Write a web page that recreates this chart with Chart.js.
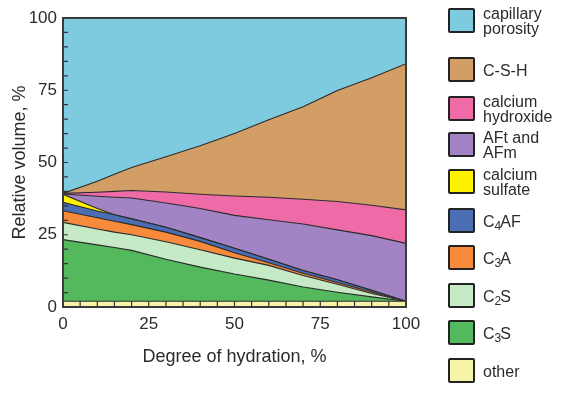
<!DOCTYPE html>
<html>
<head>
<meta charset="utf-8">
<script src="https://cdn.jsdelivr.net/npm/chart.js@4/dist/chart.umd.min.js"></script>
<style>
  html, body { margin: 0; padding: 0; background: #fff; }
  #wrap { position: relative; width: 563px; height: 396px; font-family: "Liberation Sans", Arial, Helvetica, sans-serif; color: #2b2b2b; }
  #chart { position: absolute; left: 0; top: 0; }
  .item { position: absolute; left: 448px; }
  .box { position: absolute; left: 0; width: 23px; height: 21px; border: 2.5px solid #222; border-radius: 2px; }
  .txt { position: absolute; left: 35px; font-size: 16px; line-height: 15px; white-space: nowrap; }
  .txt sub { font-size: 12px; line-height: 0; vertical-align: -3px; letter-spacing: -1px; }
</style>
</head>
<body>
<div id="wrap">
  <canvas id="chart" width="563" height="396"></canvas>
  <div id="legend"></div>
</div>
<script>
// degree of hydration, %
const hydration = [0, 10, 15, 20, 30, 40, 50, 60, 70, 80, 90, 100];

// relative volume of each phase, % (bottom to top)
const other     = [2, 2, 2, 2, 2, 2, 2, 2, 2, 2, 2, 2];
const c3s       = [21.3, 19.5, 18.6, 17.6, 14.5, 11.8, 9.4, 7.3, 4.9, 3.1, 1.5, 0];
const c2s       = [6.0, 5.5, 5.3, 5.4, 6.1, 6.0, 5.5, 5.1, 4.0, 2.8, 1.2, 0];
const c3a       = [4.0, 3.9, 3.8, 3.5, 3.3, 2.9, 1.9, 0.9, 0.8, 0.6, 0.5, 0];
const c4af      = [2.9, 2.3, 2.2, 2.0, 1.7, 1.3, 1.5, 1.2, 0.9, 0.9, 0.6, 0];
const sulfate   = [2.8, 0.9, 0, 0, 0, 0, 0, 0, 0, 0, 0, 0];
const aft       = [0.1, 4.2, 6.1, 7.2, 8.4, 10.1, 11.4, 13.7, 16.1, 17.3, 18.9, 20.0];
const hydroxide = [0.2, 1.4, 2.0, 2.6, 3.8, 4.9, 6.7, 7.8, 8.6, 9.8, 10.5, 11.6];
const csh       = [0, 3.8, 5.9, 8.0, 12.2, 16.8, 21.6, 26.8, 32.0, 38.4, 44.1, 50.6];
const porosity  = [60.7, 56.5, 54.1, 51.7, 48.0, 44.2, 40.0, 35.2, 30.7, 25.1, 20.7, 15.8];

const axisTicks = [0, 25, 50, 75, 100];

// legend order is top to bottom
const phases = [
  { label: ['capillary', 'porosity'], data: porosity, color: '#7ecbe0' },
  { label: ['C-S-H'], data: csh, color: '#d29e65' },
  { label: ['calcium', 'hydroxide'], data: hydroxide, color: '#ef6ba8' },
  { label: ['AFt and', 'AFm'], data: aft, color: '#a283c4' },
  { label: ['calcium', 'sulfate'], data: sulfate, color: '#fff200' },
  { label: ['C<sub>4</sub>AF'], data: c4af, color: '#4a6db3' },
  { label: ['C<sub>3</sub>A'], data: c3a, color: '#f78b3b' },
  { label: ['C<sub>2</sub>S'], data: c2s, color: '#c6e9c6' },
  { label: ['C<sub>3</sub>S'], data: c3s, color: '#54b85c' },
  { label: ['other'], data: other, color: '#f8f4a9' }
];
const legendTops = [8, 57, 96, 132, 169, 208, 245, 283, 320, 358];

const stacked = phases.slice().reverse();
const datasets = stacked.map((p, i) => ({
  label: p.label.join(' ').replace(/<\/?sub>/g, ''),
  data: hydration.map((x, j) => ({ x: x, y: p.data[j] })),
  backgroundColor: p.color,
  borderColor: '#2a2a2a',
  borderWidth: 1.1,
  pointRadius: 0,
  tension: 0,
  fill: i === 0 ? 'origin' : '-1'
}));

// frame and inward ticks
const framePlugin = {
  id: 'frame',
  afterDatasetsDraw(chart) {
    const ctx = chart.ctx, a = chart.chartArea;
    const xs = chart.scales.x, ys = chart.scales.y;
    ctx.save();
    ctx.strokeStyle = '#333';
    ctx.lineWidth = 1.2;
    ctx.beginPath();
    for (let v = 5; v < 100; v += 5) {
      const px = xs.getPixelForValue(v);
      ctx.moveTo(px, a.bottom);
      ctx.lineTo(px, ys.getPixelForValue(2));
      const py = ys.getPixelForValue(v);
      ctx.moveTo(a.left, py);
      ctx.lineTo(a.left + 5, py);
    }
    ctx.stroke();
    ctx.lineWidth = 2;
    ctx.strokeStyle = '#3a3a3a';
    ctx.strokeRect(a.left, a.top, a.right - a.left, a.bottom - a.top);
    ctx.restore();
  }
};

const font = { family: '"Liberation Sans", Arial, Helvetica, sans-serif', size: 17 };
const titleFont = { family: font.family, size: 18 };

new Chart(document.getElementById('chart'), {
  type: 'line',
  data: { datasets: datasets },
  options: {
    responsive: false,
    animation: false,
    layout: { padding: { top: 18, right: 157, left: 8, bottom: 24 } },
    plugins: { legend: { display: false }, tooltip: { enabled: false } },
    scales: {
      x: {
        type: 'linear', min: 0, max: 100,
        border: { display: false },
        grid: { display: false, drawTicks: false },
        afterBuildTicks(s) { s.ticks = axisTicks.map(v => ({ value: v })); },
        afterFit(s) { s.height = 65; },
        ticks: { padding: 7, color: '#2b2b2b', font: font, maxRotation: 0 },
        title: { display: true, text: 'Degree of hydration, %', color: '#2b2b2b', font: titleFont, padding: { top: 6, bottom: 4 } }
      },
      y: {
        stacked: true, min: 0, max: 100,
        border: { display: false },
        grid: { display: false, drawTicks: false },
        afterBuildTicks(s) { s.ticks = axisTicks.map(v => ({ value: v })); },
        afterFit(s) { s.width = 55; },
        ticks: { padding: 6, color: '#2b2b2b', font: font },
        title: { display: true, text: 'Relative volume, %', color: '#2b2b2b', font: titleFont, padding: { top: 1, bottom: 4 } }
      }
    }
  },
  plugins: [framePlugin]
});

// legend
const legend = document.getElementById('legend');
phases.forEach((p, i) => {
  const item = document.createElement('div');
  item.className = 'item';
  item.style.top = legendTops[i] + 'px';
  const box = document.createElement('div');
  box.className = 'box';
  box.style.background = p.color;
  const txt = document.createElement('div');
  txt.className = 'txt';
  txt.innerHTML = p.label.join('<br>');
  const h = p.label.length * 15;
  txt.style.top = (13 - h / 2) + 'px';
  item.appendChild(box);
  item.appendChild(txt);
  legend.appendChild(item);
});
</script>
</body>
</html>
